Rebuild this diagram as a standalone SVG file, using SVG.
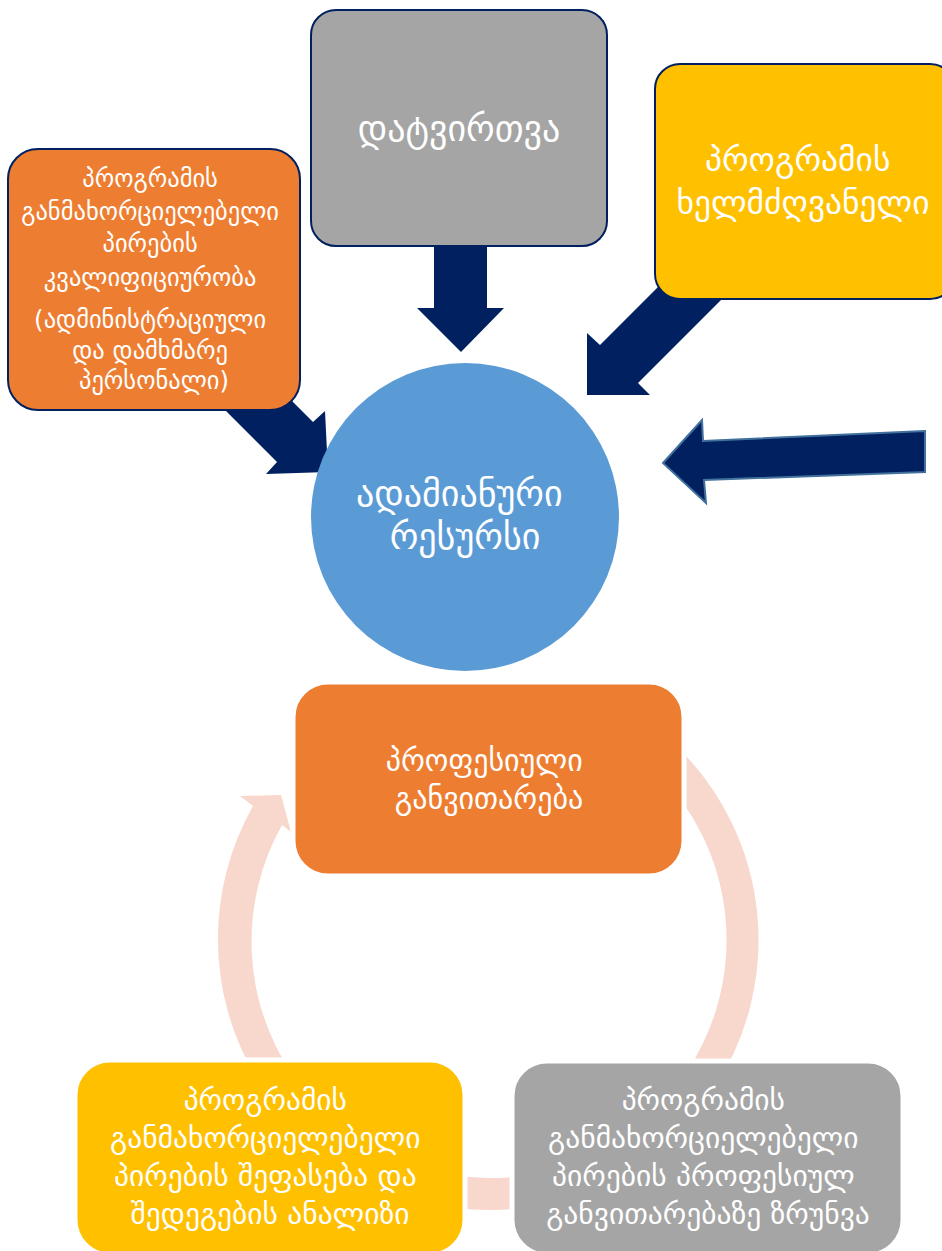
<svg xmlns="http://www.w3.org/2000/svg" width="942" height="1251" viewBox="0 0 942 1251">
<style>
.t{font-family:"DejaVu Sans",sans-serif;fill:#ffffff;text-anchor:middle}
.top{stroke:#002060;stroke-width:2}
.cyc{stroke:#ffffff;stroke-width:5}
.arr{fill:#002060}
</style>
<rect width="942" height="1251" fill="#ffffff"/>
<g id="connectors">
  <polygon class="arr" points="434,240 487,240 487,308 504,308 461,352 417,308 434,308"/>
  <polygon class="arr" points="700,245 600,345 587,333 587,395 650,395 638,383 738,283"/>
  <polygon class="arr" points="230,339 313,422 325,411 328,472 266,474 277,462 192,377"/>
  <polygon class="arr" points="925,431 703,441 702,420 663,463 706,503 704,480 925,472" stroke="#41719C" stroke-width="2"/>
  <path d="M254.7,1075 A270,270 0 0 1 253,806 L240,796 L281,795 L291,832 L282,825 A238,238 0 0 0 292.5,1075 Z" fill="#F8D7CD"/>
  <path d="M667.7,760 A254,254 0 0 1 700.5,1080" fill="none" stroke="#F8D7CD" stroke-width="32"/>
  <path d="M560,1184 A254,254 0 0 1 420,1184" fill="none" stroke="#F8D7CD" stroke-width="32"/>
</g>
<g id="node-qualification">
  <rect class="top" x="8" y="149" width="292" height="261" rx="30" fill="#ED7D31"/>
  <text class="t" font-size="24.5">
    <tspan x="154" y="187">პროგრამის</tspan>
    <tspan x="154" y="220">განმახორციელებელი</tspan>
    <tspan x="154" y="252">პირების</tspan>
    <tspan x="154" y="286">კვალიფიციურობა</tspan>
    <tspan x="154" y="328">(ადმინისტრაციული</tspan>
    <tspan x="154" y="359">და დამხმარე</tspan>
    <tspan x="154" y="389">პერსონალი)</tspan>
  </text>
</g>
<g id="node-workload">
  <rect class="top" x="311" y="10" width="296" height="236" rx="25" fill="#A5A5A5"/>
  <text class="t" font-size="36" x="459" y="141">დატვირთვა</text>
</g>
<g id="node-manager">
  <rect class="top" x="655" y="64" width="300" height="235" rx="25" fill="#FFC000"/>
  <text class="t" font-size="33.5">
    <tspan x="803" y="171">პროგრამის</tspan>
    <tspan x="803" y="214">ხელმძღვანელი</tspan>
  </text>
</g>
<g id="node-human-resource">
  <circle cx="465" cy="517" r="154" fill="#5B9BD5"/>
  <text class="t" font-size="36">
    <tspan x="465" y="506">ადამიანური</tspan>
    <tspan x="465" y="549">რესურსი</tspan>
  </text>
</g>
<g id="node-development">
  <rect class="cyc" x="293" y="682" width="391" height="194" rx="35" fill="#ED7D31"/>
  <text class="t" font-size="30">
    <tspan x="489" y="771">პროფესიული</tspan>
    <tspan x="489" y="809">განვითარება</tspan>
  </text>
</g>
<g id="node-evaluation">
  <rect class="cyc" x="75" y="1060" width="390" height="195" rx="35" fill="#FFC000"/>
  <text class="t" font-size="29.5">
    <tspan x="270" y="1110">პროგრამის</tspan>
    <tspan x="270" y="1148">განმახორციელებელი</tspan>
    <tspan x="270" y="1186">პირების შეფასება და</tspan>
    <tspan x="270" y="1224">შედეგების ანალიზი</tspan>
  </text>
</g>
<g id="node-care">
  <rect class="cyc" x="512" y="1061" width="391" height="194" rx="35" fill="#A5A5A5"/>
  <text class="t" font-size="29.5">
    <tspan x="708" y="1110">პროგრამის</tspan>
    <tspan x="708" y="1148">განმახორციელებელი</tspan>
    <tspan x="708" y="1186">პირების პროფესიულ</tspan>
    <tspan x="708" y="1224">განვითარებაზე ზრუნვა</tspan>
  </text>
</g>
</svg>
